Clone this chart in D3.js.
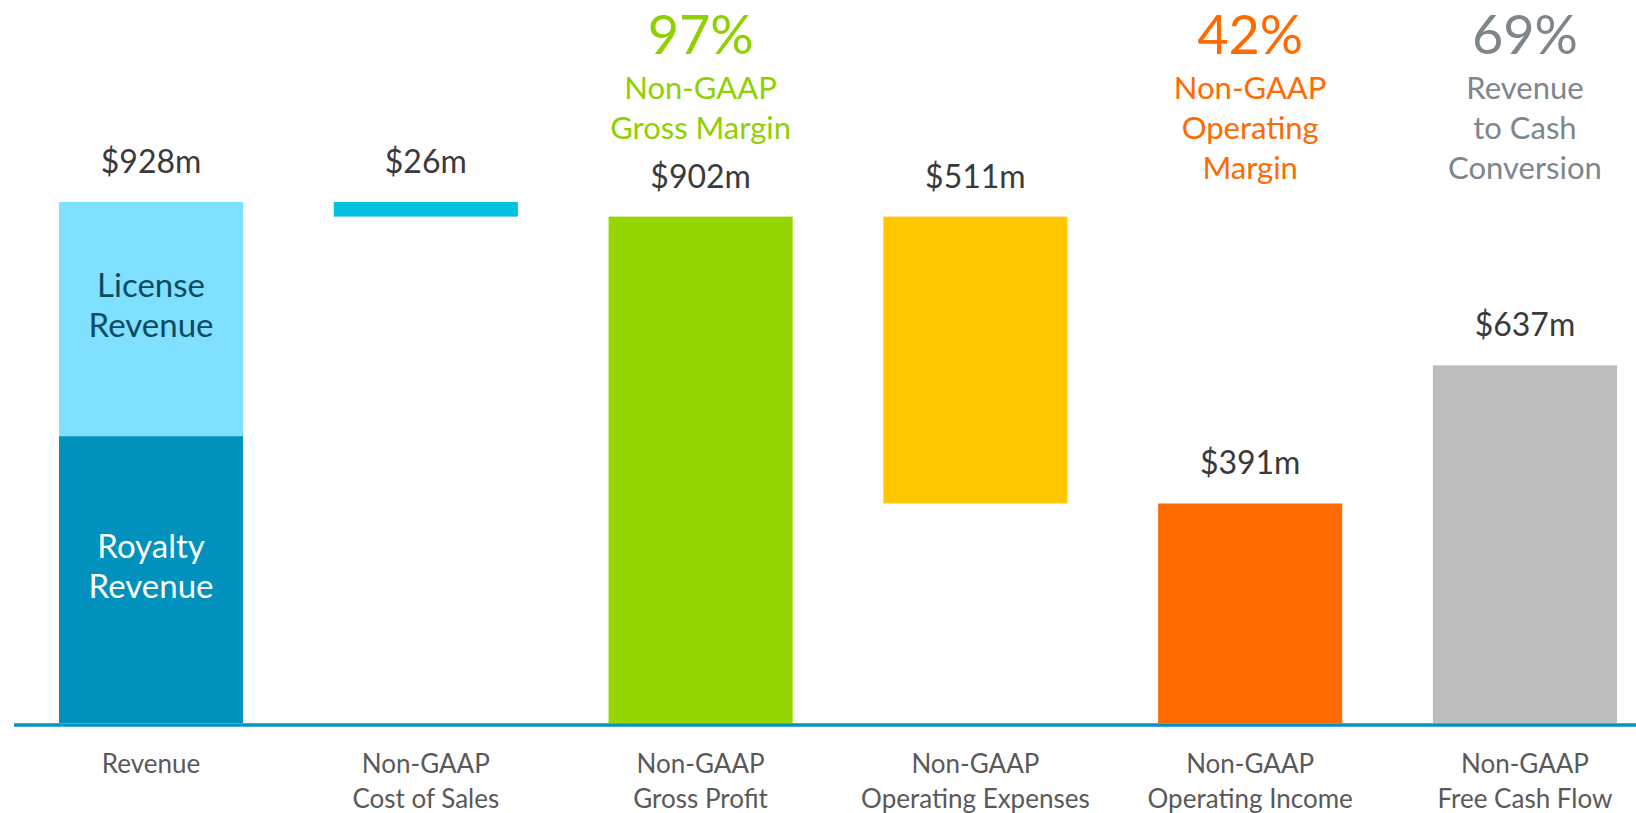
<!DOCTYPE html>
<html>
<head>
<meta charset="utf-8">
<script src="https://cdn.jsdelivr.net/npm/d3@7"></script>
<style>
  html, body { margin: 0; padding: 0; background: #fff; }
  svg { display: block; font-family: Lato, "Open Sans", sans-serif; }
</style>
</head>
<body>
<div id="chart"></div>
<script>
// categories along the bottom (two lines each)
let categories = [
  ['Revenue'],
  ['Non-GAAP', 'Cost of Sales'],
  ['Non-GAAP', 'Gross Profit'],
  ['Non-GAAP', 'Operating Expenses'],
  ['Non-GAAP', 'Operating Income'],
  ['Non-GAAP', 'Free Cash Flow']
];

// waterfall: each bar goes from low to high ($m)
let barLow  = [0, 902, 0, 391, 0, 0];
let barHigh = [928, 928, 902, 902, 391, 637];
let barColors = ['#0091bd', '#00c1de', '#95d600', '#ffc700', '#ff6b00', '#bdbdbd'];
let valueLabels = ['$928m', '$26m', '$902m', '$511m', '$391m', '$637m'];

// revenue split
let revenueParts = ['Royalty', 'License'];
let revenueValues = [511, 417];
let revenueColors = ['#0091bd', '#80e0ff'];
let revenueTextColors = ['#ffffff', '#0b4a60'];

// margin callouts above bars
let calloutIndex = [2, 4, 5];
let calloutPct = ['97%', '42%', '69%'];
let calloutLines = [
  ['Non-GAAP', 'Gross Margin'],
  ['Non-GAAP', 'Operating', 'Margin'],
  ['Revenue', 'to Cash', 'Conversion']
];
let calloutColors = ['#8fd000', '#ff6b00', '#7d868c'];

let width = 1636, height = 813;

let $svg = d3.select('#chart').append('svg')
  .attr('width', width)
  .attr('height', height);

let x = d3.scaleBand()
  .domain(d3.range(categories.length))
  .range([59, 1617])
  .paddingInner(0.33)
  .paddingOuter(0);

let y = d3.scaleLinear()
  .domain([0, 928])
  .range([723, 202]);

// bars (revenue drawn as a stack separately)
$svg.selectAll('.bar')
  .data(d3.range(categories.length).filter(i => i > 0))
  .enter()
  .append('rect')
  .classed('bar', true)
  .attr('x', i => x(i))
  .attr('width', x.bandwidth())
  .attr('y', i => y(barHigh[i]))
  .attr('height', i => y(barLow[i]) - y(barHigh[i]))
  .style('fill', i => barColors[i]);

let stacked = d3.cumsum(revenueValues);
let $rev = $svg.selectAll('.rev')
  .data(revenueParts)
  .enter()
  .append('g')
  .classed('rev', true);

$rev.append('rect')
  .attr('x', x(0))
  .attr('width', x.bandwidth())
  .attr('y', (d, i) => y(stacked[i]))
  .attr('height', (d, i) => y(stacked[i] - revenueValues[i]) - y(stacked[i]))
  .style('fill', (d, i) => revenueColors[i]);

$rev.append('text')
  .attr('x', x(0) + x.bandwidth() / 2)
  .attr('text-anchor', 'middle')
  .style('font-size', '33px')
  .style('fill', (d, i) => revenueTextColors[i])
  .each(function(d, i) {
    let mid = (y(stacked[i]) + y(stacked[i] - revenueValues[i])) / 2;
    let t = d3.select(this);
    t.append('tspan').attr('x', x(0) + x.bandwidth() / 2).attr('y', mid - 22).text(d);
    t.append('tspan').attr('x', x(0) + x.bandwidth() / 2).attr('y', mid + 18).text('Revenue');
  });

// axis baseline
$svg.append('line')
  .attr('x1', 14)
  .attr('x2', width)
  .attr('y1', y(0) + 2)
  .attr('y2', y(0) + 2)
  .style('stroke', '#0093c4')
  .style('stroke-width', 3.5);

// value labels
$svg.selectAll('.value')
  .data(valueLabels)
  .enter()
  .append('text')
  .classed('value', true)
  .attr('x', (d, i) => x(i) + x.bandwidth() / 2)
  .attr('y', (d, i) => y(barHigh[i]) - 29)
  .attr('text-anchor', 'middle')
  .style('font-size', '32px')
  .style('fill', '#3a3a3a')
  .text(d => d);

// category labels
$svg.selectAll('.cat')
  .data(categories)
  .enter()
  .append('text')
  .classed('cat', true)
  .attr('text-anchor', 'middle')
  .style('font-size', '26px')
  .style('fill', '#595959')
  .each(function(lines, i) {
    let cx = x(i) + x.bandwidth() / 2;
    d3.select(this).selectAll('tspan')
      .data(lines)
      .enter()
      .append('tspan')
      .attr('x', cx)
      .attr('y', (d, j) => 773 + j * 35)
      .text(d => d);
  });

// margin callouts
let $call = $svg.selectAll('.callout')
  .data(calloutIndex)
  .enter()
  .append('g')
  .classed('callout', true)
  .style('fill', (d, k) => calloutColors[k]);

$call.append('text')
  .attr('x', i => x(i) + x.bandwidth() / 2)
  .attr('y', 54)
  .attr('text-anchor', 'middle')
  .style('font-size', '54px')
  .text((d, k) => calloutPct[k]);

$call.append('text')
  .attr('text-anchor', 'middle')
  .style('font-size', '31px')
  .each(function(i, k) {
    let cx = x(i) + x.bandwidth() / 2;
    d3.select(this).selectAll('tspan')
      .data(calloutLines[k])
      .enter()
      .append('tspan')
      .attr('x', cx)
      .attr('y', (d, j) => 99 + j * 40)
      .text(d => d);
  });
</script>
</body>
</html>
